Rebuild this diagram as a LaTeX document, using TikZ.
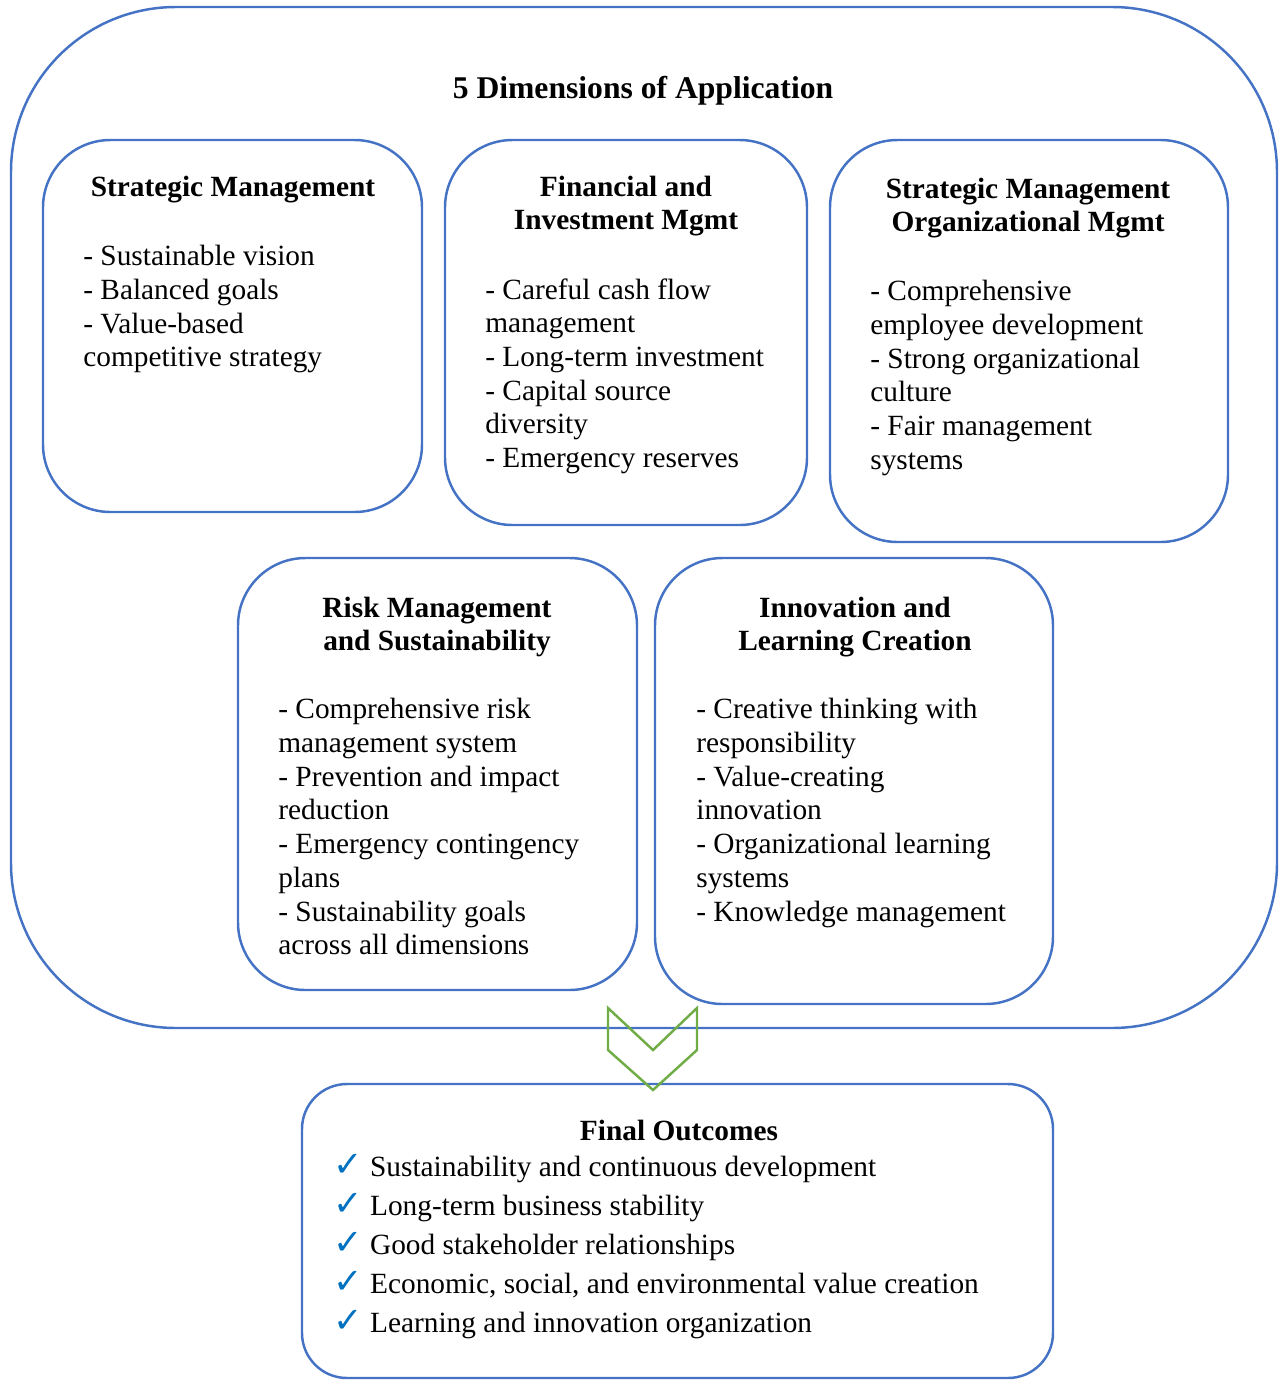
\documentclass[tikz,border=0pt]{standalone}
\usepackage{fontspec}
\setmainfont{Liberation Serif}
\newfontfamily\symfont{DejaVu Sans}
\usetikzlibrary{fit}
\definecolor{boxblue}{RGB}{68,114,196}
\definecolor{chevgreen}{RGB}{112,173,71}
\definecolor{tickblue}{RGB}{0,112,192}
\newcommand{\chkmark}{{\color{tickblue}\symfont\fontsize{20}{22}\selectfont ✓}}
\tikzset{
	dimbox/.style={draw=boxblue, line width=1.4pt, rounded corners=1.35cm, inner sep=0pt},
	head/.style={font=\bfseries\fontsize{16.7}{19.2}\selectfont, align=center, inner sep=0pt},
	body/.style={font=\fontsize{16.7}{19.2}\selectfont, align=left, inner sep=0pt, anchor=north west},
	outc/.style={font=\fontsize{16.7}{22.2}\selectfont, align=left, inner sep=0pt, anchor=north west},
}
\begin{document}
\begin{tikzpicture}[x=0.02cm, y=-0.02cm]
	\useasboundingbox (0,0) rectangle (1285,1380);

	%riquadro esterno
	\node[dimbox, rounded corners=3.3cm, fit={(11,7) (1277,1028)}] (dims) {};
	\node[head, font=\bfseries\fontsize{18}{21}\selectfont] (dimst) at (643,91) {5 Dimensions of Application};

	%strategic management
	\node[dimbox, fit={(43,140) (422,512)}] (sm) {};
	\node[head] (smt) at (233,190) {Strategic Management};
	\node[body] (smb) at (83,245) {- Sustainable vision\\- Balanced goals\\- Value-based\\competitive strategy};

	%financial
	\node[dimbox, fit={(445,140) (807,525)}] (fin) {};
	\node[head] (fint) at (626,206) {Financial and\\Investment Mgmt};
	\node[body] (finb) at (485,278) {- Careful cash flow\\management\\- Long-term investment\\- Capital source\\diversity\\- Emergency reserves};

	%organizational
	\node[dimbox, fit={(830,140) (1228,542)}] (org) {};
	\node[head] (orgt) at (1028,208) {Strategic Management\\Organizational Mgmt};
	\node[body] (orgb) at (870,280) {- Comprehensive\\employee development\\- Strong organizational\\culture\\- Fair management\\systems};

	%risk
	\node[dimbox, fit={(238,558) (637,990)}] (risk) {};
	\node[head] (riskt) at (437,627) {Risk Management\\and Sustainability};
	\node[body] (riskb) at (278,698) {- Comprehensive risk\\management system\\- Prevention and impact\\reduction\\- Emergency contingency\\plans\\- Sustainability goals\\across all dimensions};

	%innovation
	\node[dimbox, fit={(655,558) (1053,1004)}] (inno) {};
	\node[head] (innot) at (855,627) {Innovation and\\Learning Creation};
	\node[body] (innob) at (696,698) {- Creative thinking with\\responsibility\\- Value-creating\\innovation\\- Organizational learning\\systems\\- Knowledge management};

	%risultati
	\node[dimbox, rounded corners=0.9cm, fit={(302,1084) (1053,1378)}] (outs) {};
	\node[head] (outt) at (679,1130) {Final Outcomes};
	\node[outc] (outb) at (333,1154) {\chkmark\ Sustainability and continuous development\\
		\chkmark\ Long-term business stability\\
		\chkmark\ Good stakeholder relationships\\
		\chkmark\ Economic, social, and environmental value creation\\
		\chkmark\ Learning and innovation organization};

	%freccia
	\draw[chevgreen, line width=1.4pt] (608,1008) -- (653,1050) -- (697,1008)
		-- (697,1050) -- (653,1090) -- (608,1050) -- cycle;
\end{tikzpicture}
\end{document}
